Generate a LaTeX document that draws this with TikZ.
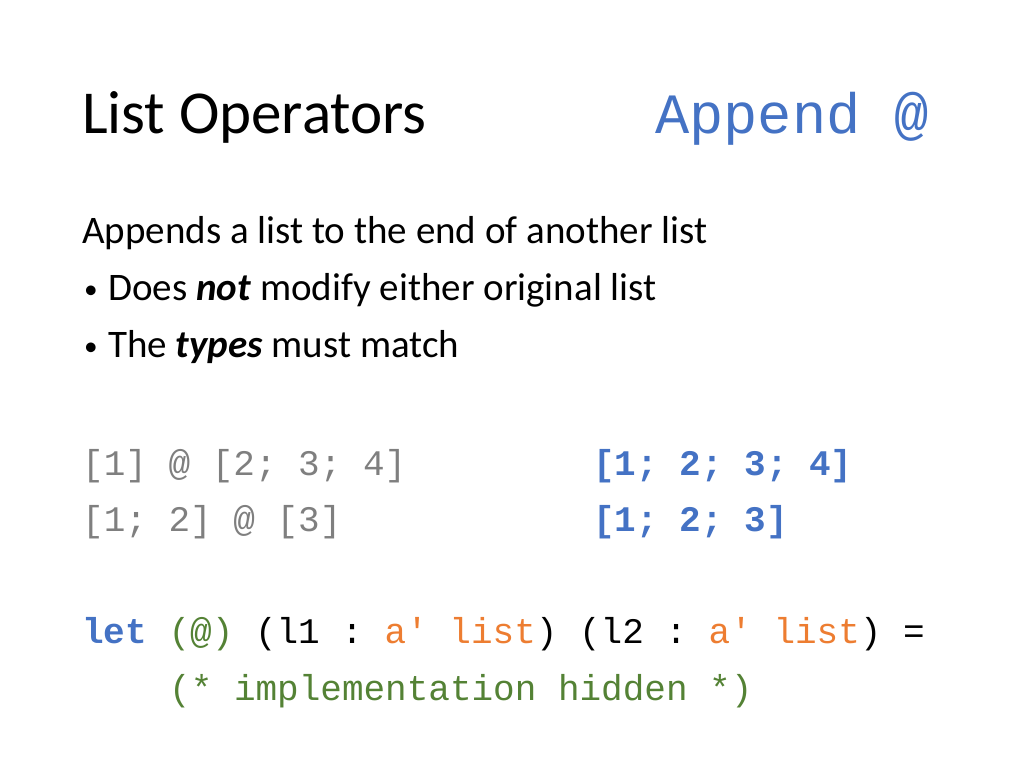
\documentclass[tikz,border=0pt]{standalone}
\usepackage{fontspec}
\setmainfont{Carlito}
\setmonofont{Liberation Mono}
\definecolor{codegray}{HTML}{7F7F7F}
\definecolor{keyblue}{HTML}{4472C4}
\definecolor{typeorange}{HTML}{ED7D31}
\definecolor{commgreen}{HTML}{548235}
\newcommand{\slidebullet}{\makebox[24pt][l]{\raisebox{2pt}{\scalebox{0.7}{\textbullet}}}}
\begin{document}
\begin{tikzpicture}[x=1pt,y=-1pt,
    txt/.style ={anchor=base west, inner sep=0pt, font=\fontsize{39}{42}\selectfont},
    code/.style ={anchor=base west, inner sep=0pt, font=\fontsize{36}{40}\ttfamily}]
   \useasboundingbox (0,0) rectangle (1024,768);
   \node[anchor=base west, inner sep=0pt, font=\fontsize{61}{66}\selectfont] (title) at (82,133) {List Operators};
   \node[anchor=base west, inner sep=0pt, font=\fontsize{57}{62}\ttfamily, text=keyblue] (op) at (655,133) {Append @};

   \node[txt] (intro) at (82,243) {Appends a list to the end of another list};
   \node[txt] (b1) at (84,300) {\slidebullet Does \textbf{\textit{not}} modify either original list};
   \node[txt] (b2) at (84,357) {\slidebullet The \textbf{\textit{types}} must match};

   \node[code, text=codegray] (ex1) at (82,475) {[1] @ [2; 3; 4]};
   \node[code, text=codegray] (ex2) at (82,531) {[1; 2] @ [3]};
   \node[code, text=keyblue, font=\fontsize{36}{40}\ttfamily\bfseries] (res1) at (593,475) {[1; 2; 3; 4]};
   \node[code, text=keyblue, font=\fontsize{36}{40}\ttfamily\bfseries] (res2) at (593,531) {[1; 2; 3]};

   \node[code] (def) at (82,643) {\textcolor{keyblue}{\bfseries let} \textcolor{commgreen}{(@)} (l1 : \textcolor{typeorange}{a' list}) (l2 : \textcolor{typeorange}{a' list}) =};
   \node[code, text=commgreen] (body) at (169,700) {(* implementation hidden *)};
 \end{tikzpicture}
\end{document}
